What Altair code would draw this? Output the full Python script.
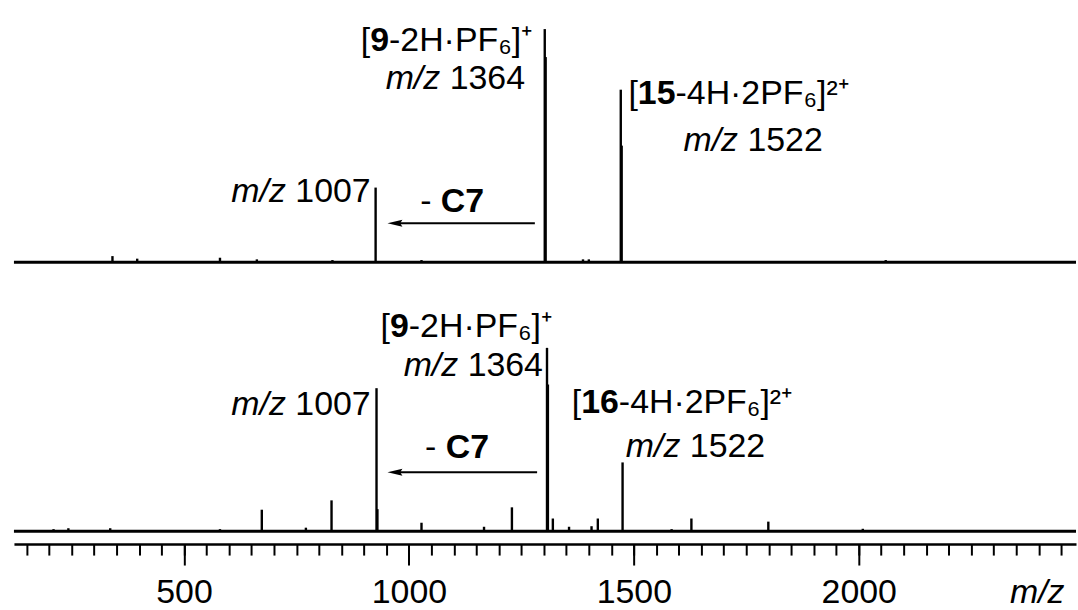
import altair as alt
import pandas as pd

# ---------------- data ----------------
X_DOMAIN = [122, 2483]

# upper spectrum (relative intensity, tallest = 100)
top_mz = [341, 396, 580, 662, 830, 926, 1028, 1302, 1304, 1387, 1400, 1471, 1473, 2060]
top_int = [2.6, 1.5, 1.9, 1.2, 0.9, 32, 0.9, 100, 88, 1.2, 1.2, 74, 50, 0.9]

# lower spectrum
bot_mz = [210, 243, 336, 580, 673, 771, 828, 928, 930, 1028, 1167, 1229, 1307, 1309,
          1320, 1356, 1406, 1420, 1475, 1584, 1628, 1799, 2009]
bot_int = [1.1, 1.6, 1.6, 1.1, 11.7, 1.9, 16.8, 78, 12, 4.6, 2.4, 13, 100, 80,
           6.9, 2.4, 2.7, 6.9, 37.5, 1.1, 6.9, 5.2, 1.3]

major_ticks = [500, 1000, 1500, 2000]
minor_ticks = list(range(150, 2451, 50))

# annotations: (x, y) in data units of each panel
top_ann = {
    "formula1": (914, 90.6, "9", "-2H·PF₆]⁺"),
    "mz1364": (1258, 74.4, "m/z 1364"),
    "mz1007": (915, 25.6, "m/z 1007"),
    "loss": (1025, 21.4),
    "arrow": (1280, 969, 16.7),
    "formula2": (1509, 68.0, "15", "-4H·2PF₆]²⁺"),
    "mz1522": (1920, 47.9, "m/z 1522"),
}
bot_ann = {
    "formula1": (958, 106.0, "9", "-2H·PF₆]⁺"),
    "mz1364": (1298, 84.4, "m/z 1364"),
    "mz1007": (915, 63.6, "m/z 1007"),
    "loss": (1036, 40.0),
    "arrow": (1285, 969, 32.2),
    "formula2": (1383, 64.7, "16", "-4H·2PF₆]²⁺"),
    "mz1522": (1792, 40.2, "m/z 1522"),
}

FONT = "Liberation Sans"
FS = 34
W = 1066
H = 262


def text_layer(x, y, s, xs, ys, **kw):
    df = pd.DataFrame({"x": [x], "y": [y], "t": [s]})
    params = dict(font=FONT, fontSize=FS, color="black", baseline="alphabetic")
    params.update(kw)
    return alt.Chart(df).mark_text(**params).encode(
        x=alt.X("x:Q", scale=xs, axis=None),
        y=alt.Y("y:Q", scale=ys, axis=None),
        text="t:N",
    )


def mz_label(x, y, s, xs, ys):
    # "m/z" italic + number
    num = s.split(" ")[1]
    return [
        text_layer(x, y, num, xs, ys, align="right"),
        text_layer(x, y, "m/z", xs, ys, align="right", fontStyle="italic",
                   dx=-FS * (0.556 * len(num) + 0.278)),
    ]


def formula(x, y, bold, rest, xs, ys):
    bw = FS * 0.556 * len(bold)
    return [
        text_layer(x, y, "[", xs, ys, align="right"),
        text_layer(x, y, bold, xs, ys, align="left", fontWeight="bold"),
        text_layer(x, y, rest, xs, ys, align="left", dx=bw),
    ]


def panel(mz, inten, ymax, ann, with_axis):
    xs = alt.Scale(domain=X_DOMAIN, nice=False, zero=False)
    ys = alt.Scale(domain=[0, ymax], nice=False)
    df = pd.DataFrame({"mz": mz, "i": inten, "z": [0] * len(mz)})
    base_df = pd.DataFrame({"a": [X_DOMAIN[0]], "b": [X_DOMAIN[1]], "z": [0]})

    if with_axis:
        major_axis = alt.Axis(
            values=major_ticks, orient="bottom", offset=13, tickSize=21, tickWidth=2,
            tickColor="black", domainColor="black", domainWidth=2.5, grid=False,
            format="d",
            labelFont=FONT, labelFontSize=FS, labelColor="black",
            labelBaseline="alphabetic", labelPadding=38, labelFlush=False,
            title="m/z", titleFont=FONT, titleFontSize=FS, titleFontStyle="italic",
            titleFontWeight="normal", titleColor="black", titleAnchor="end",
            titleAlign="right", titleBaseline="alphabetic", titleX=W - 12, titleY=59,
        )
        minor_axis = alt.Axis(
            values=minor_ticks, orient="bottom", offset=13, tickSize=11, tickWidth=2,
            tickColor="black", domain=False, labels=False, grid=False, title=None,
        )
    else:
        major_axis = None
        minor_axis = None

    peaks = alt.Chart(df).mark_rule(color="black", strokeWidth=2.4).encode(
        x=alt.X("mz:Q", scale=xs, axis=major_axis),
        y=alt.Y("z:Q", scale=ys, axis=None),
        y2="i:Q",
    )
    baseline = alt.Chart(base_df).mark_rule(color="black", strokeWidth=3).encode(
        x=alt.X("a:Q", scale=xs, axis=minor_axis),
        x2="b:Q",
        y=alt.Y("z:Q", scale=ys, axis=None),
    )

    layers = [peaks, baseline]
    fx, fy, fb, fr = ann["formula1"]
    layers += formula(fx, fy, fb, fr, xs, ys)
    fx, fy, fb, fr = ann["formula2"]
    layers += formula(fx, fy, fb, fr, xs, ys)
    for key in ("mz1364", "mz1007", "mz1522"):
        lx, ly, s = ann[key]
        layers += mz_label(lx, ly, s, xs, ys)
    lx, ly = ann["loss"]
    layers.append(text_layer(lx, ly, "-", xs, ys, align="left"))
    layers.append(text_layer(lx, ly, "C7", xs, ys, align="left", fontWeight="bold",
                             dx=FS * 0.611))
    a0, a1, ay = ann["arrow"]
    arr = pd.DataFrame({"a": [a0], "b": [a1], "y": [ay]})
    layers.append(alt.Chart(arr).mark_rule(color="black", strokeWidth=2).encode(
        x=alt.X("a:Q", scale=xs, axis=None), x2="b:Q",
        y=alt.Y("y:Q", scale=ys, axis=None)))
    layers.append(alt.Chart(arr).mark_point(
        shape="M-1,0L1,-0.47L0.7,0L1,0.47Z", size=225, filled=True, color="black",
        opacity=1, strokeWidth=0).encode(
        x=alt.X("b:Q", scale=xs, axis=None),
        y=alt.Y("y:Q", scale=ys, axis=None)))

    ch = alt.layer(*layers).properties(width=W, height=H)
    if with_axis:
        ch = ch.resolve_axis(x="independent")
    return ch


top = panel(top_mz, top_int, 112, top_ann, False)
bottom = panel(bot_mz, bot_int, 142.4, bot_ann, True)

chart = alt.vconcat(top, bottom, spacing=8, bounds="flush").properties(
    padding={"left": 12, "top": 0, "right": 0, "bottom": 0},
    background="white",
).configure_view(stroke=None)

chart.save("out.html", embed_options={"renderer": "svg", "actions": False})
